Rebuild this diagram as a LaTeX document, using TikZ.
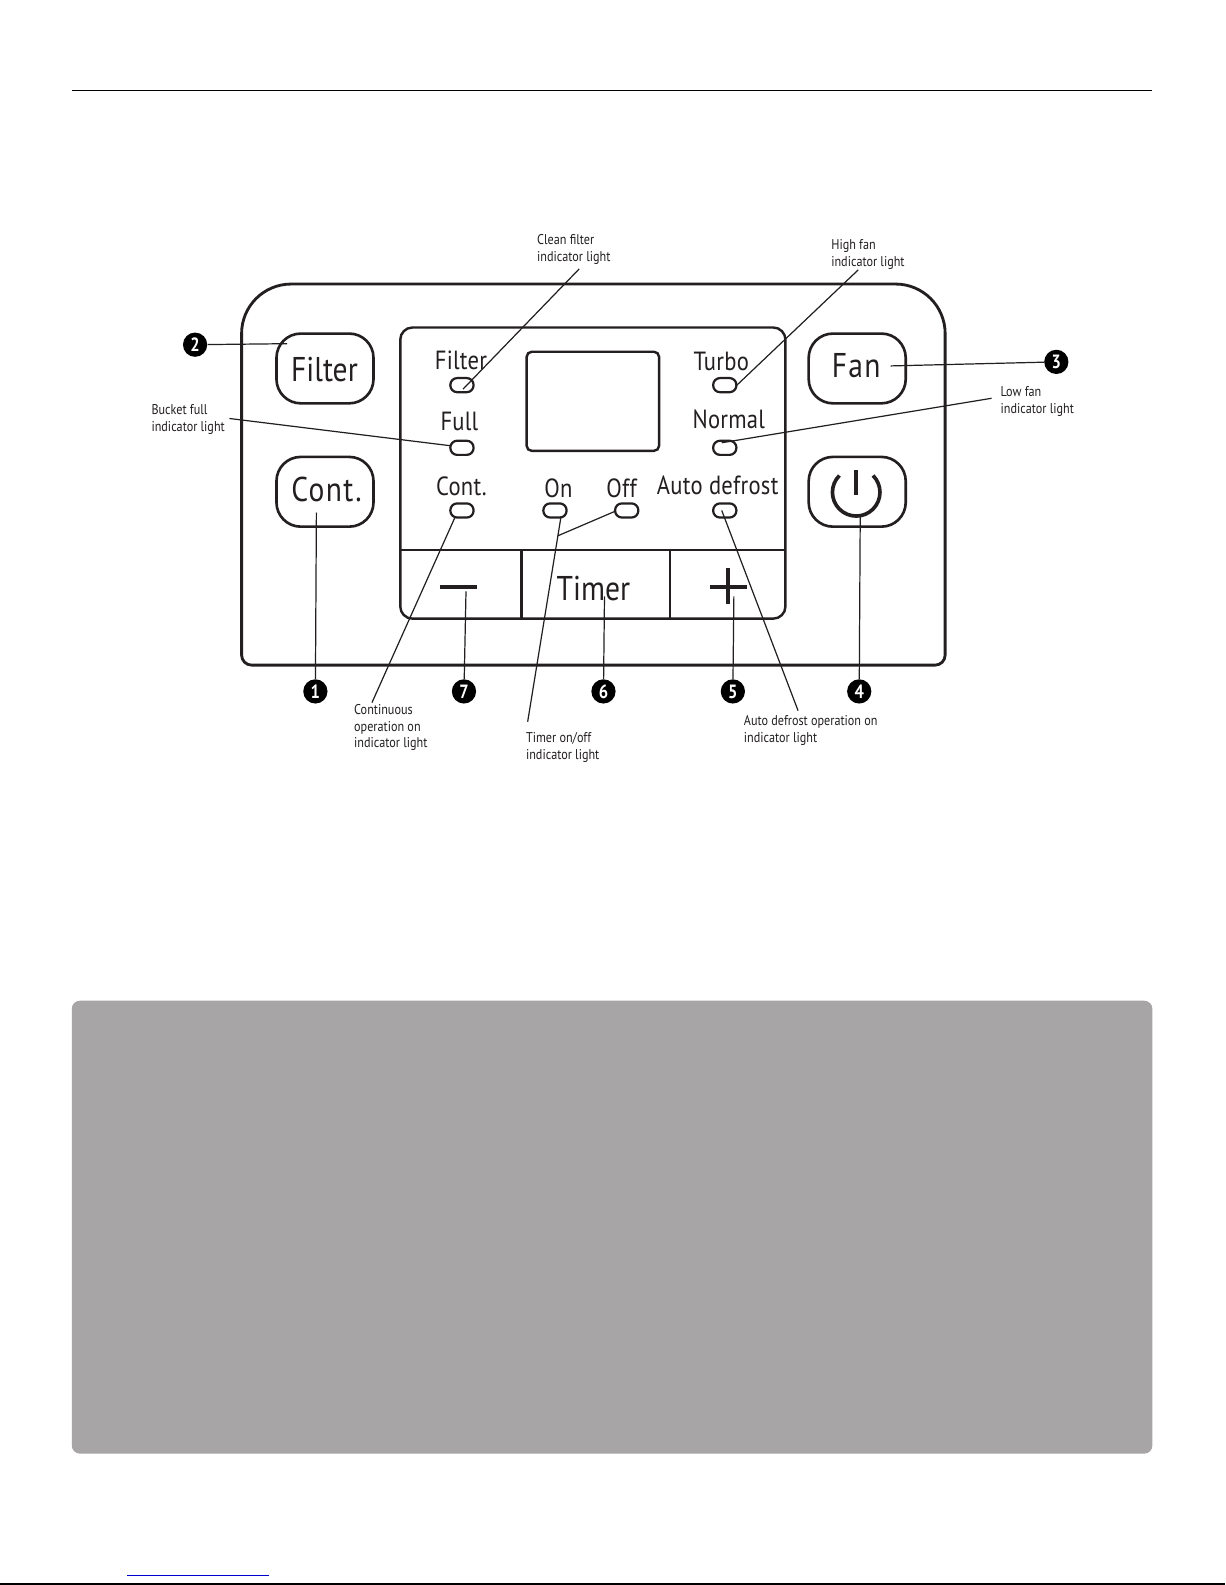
\documentclass[tikz,border=0pt]{standalone}
\usepackage{fontspec}
\setmainfont[FakeStretch=0.86]{PT Sans}
\newfontfamily\keyface[FakeStretch=0.86,LetterSpace=4]{PT Sans}
\newfontfamily\lampface[FakeStretch=0.86,LetterSpace=1]{PT Sans}
\definecolor{panelgrey}{HTML}{A7A5A6}
\definecolor{linkblue}{HTML}{0000CC}
\definecolor{ink}{HTML}{231F20}
\tikzset{
  frame/.style={draw=ink,line width=1.4pt,fill=none},
  keybox/.style={draw=ink,line width=1.3pt,rounded corners=12pt,minimum width=48pt,minimum height=34.5pt},
  led/.style={draw=ink,line width=1.1pt,rounded corners=3.4pt,minimum width=11.5pt,minimum height=7pt,inner sep=0pt},
  badge/.style={circle,fill=black,text=white,minimum size=12pt,inner sep=0pt,font=\fontsize{9.5}{10}\selectfont\bfseries},
  keytext/.style={text=ink,inner sep=0pt,font=\fontsize{17}{18}\selectfont},
  lamptext/.style={text=ink,inner sep=0pt,font=\lampface\fontsize{13}{14}\selectfont},
  note/.style={text=ink,inner sep=0pt,anchor=north west,align=left,font=\fontsize{7}{8.4}\selectfont},
  leader/.style={draw=ink,line width=0.6pt},
}
\begin{document}
\begin{tikzpicture}[x=0.5pt,y=-0.5pt]
\useasboundingbox (0,0) rectangle (1212,1568);
\fill[white] (0,0) rectangle (1212,1568);
% rules
\draw[black,line width=0.5pt] (71,89.5) -- (1140,89.5);
\draw[black,line width=1pt] (0,1567) -- (1212,1567);
\draw[linkblue,line width=0.6pt] (126,1558.5) -- (266,1558.5);
% grey panel
\fill[panelgrey,rounded corners=4pt] (71,990) rectangle (1140,1438);
% outer panel
\draw[frame,rounded corners=24.5pt] (239,450) -- (239,281) -- (935,281) -- (935,450) [rounded corners=5pt] -- (935,658) -- (239,658) -- cycle;
% inner panel
\draw[frame,line width=1.2pt,rounded corners=6pt] (396,324) rectangle (777,612);
\draw[frame,line width=1.1pt] (396,544) -- (777,544) (516,544) -- (516,612) (663,544) -- (663,612);
\draw[frame,line width=1.2pt,rounded corners=2.5pt] (521,348) rectangle (652,446);
% keys
\node[keybox] (kfilter) at (321.5,364.5) {};
\node[keybox] (kcont) at (321.5,486.5) {};
\node[keybox] (kfan) at (848,364.5) {};
\node[keybox] (kpower) at (848,486.5) {};
\node[keytext] (tfilter) at (321,366) {Filter};
\node[keytext] (tcont) at (323,484) {\keyface Cont.};
\node[keytext] (tfan) at (847,362) {\keyface Fan};
\node[keytext] (ttimer) at (587,582) {Timer};
% power symbol
\draw[draw=ink,line width=1.8pt] (830.4,470.4) arc[start angle=225,end angle=-45,radius=23.5];
\draw[draw=ink,line width=1.8pt] (847,465) -- (847,490);
% minus plus
\draw[draw=ink,line width=2pt] (435,581) -- (472,581);
\draw[draw=ink,line width=2pt] (702,581) -- (739,581) (720,562) -- (720,598);
% lamp labels
\node[lamptext] (lfilter) at (456,356) {Filter};
\node[lamptext] (lfull) at (454.5,417) {Full};
\node[lamptext] (lcont) at (456.5,481) {Cont.};
\node[lamptext] (lon) at (552.5,483.5) {On};
\node[lamptext] (loff) at (615,483) {Off};
\node[lamptext] (lturbo) at (713.5,358) {Turbo};
\node[lamptext] (lnormal) at (721,415) {Normal};
\node[lamptext] (lauto) at (710,480) {Auto defrost};
% lamps
\node[led] (a) at (457,381) {};
\node[led] (b) at (457,443) {};
\node[led] (c) at (457,505) {};
\node[led] (d) at (549,505) {};
\node[led] (e) at (620,505) {};
\node[led] (f) at (717,381) {};
\node[led] (g) at (717,443) {};
\node[led] (h) at (717,505) {};
% badges
\node[badge] (n1) at (312,684) {1};
\node[badge] (n2) at (193,341) {2};
\node[badge] (n3) at (1045,358) {3};
\node[badge] (n4) at (850,684) {4};
\node[badge] (n5) at (725,684) {5};
\node[badge] (n6) at (597,684) {6};
\node[badge] (n7) at (459,684) {7};
% notes
\node[note] (nclean) at (531,231.5) {Clean filter\\indicator light};
\node[note] (nhigh) at (822,237) {High fan\\indicator light};
\node[note] (nlow) at (989.5,381.5) {Low fan\\indicator light};
\node[note] (nbucket) at (149.5,400) {Bucket full\\indicator light};
\node[note] (ncontinuous) at (350,696) {Continuous\\operation on\\indicator light};
\node[note] (ntimer) at (520,724.5) {Timer on/off\\indicator light};
\node[note] (nauto) at (735.5,707) {Auto defrost operation on\\indicator light};
% free ends
\coordinate (e1) at (313,507);
\coordinate (e2) at (284,340);
\coordinate (e3) at (881,362);
\coordinate (e4) at (851,510);
\coordinate (e5) at (726,590);
\coordinate (e6) at (598,590);
\coordinate (e7) at (461,585);
\coordinate (s1) at (573,266);
\coordinate (t1) at (458,385);
\coordinate (s2) at (227,414);
\coordinate (t2) at (446,441);
\coordinate (s3) at (981,394);
\coordinate (t3) at (714,438);
\coordinate (s4) at (849,267);
\coordinate (t4) at (729,381);
\coordinate (s5) at (368,695);
\coordinate (t5) at (450,512);
\coordinate (s6) at (522,714);
\coordinate (t6) at (555,511);
\coordinate (j6) at (552,530);
\coordinate (t7) at (608,506);
\coordinate (s8) at (789.5,703);
\coordinate (t8) at (714,505);
% leaders
\draw[leader] (n1) -- (e1);
\draw[leader] (n2) -- (e2);
\draw[leader] (n3) -- (e3);
\draw[leader] (n4) -- (e4);
\draw[leader] (n5) -- (e5);
\draw[leader] (n6) -- (e6);
\draw[leader] (n7) -- (e7);
\draw[leader] (s1) -- (t1);
\draw[leader] (s2) -- (t2);
\draw[leader] (s3) -- (t3);
\draw[leader] (s4) -- (t4);
\draw[leader] (s5) -- (t5);
\draw[leader] (s6) -- (t6);
\draw[leader] (j6) -- (t7);
\draw[leader] (s8) -- (t8);
\end{tikzpicture}
\end{document}
